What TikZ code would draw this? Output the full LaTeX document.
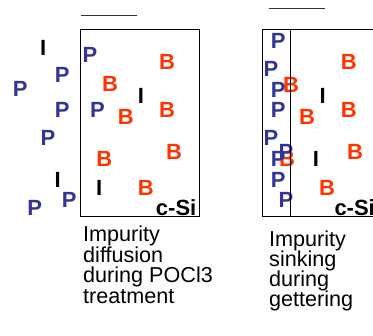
\documentclass[tikz,border=0pt]{standalone}
\usepackage{fontspec}
\setmainfont{Liberation Sans}
\definecolor{pblue}{HTML}{333399}
\definecolor{bred}{HTML}{FF3300}
\begin{document}
\begin{tikzpicture}[x=1bp,y=-1bp,
  atom/.style={inner sep=0pt,font=\fontsize{22bp}{22bp}\selectfont\bfseries},
  pat/.style={atom,text=pblue},
  bat/.style={atom,text=bred},
  iat/.style={atom,text=black},
  csi/.style={inner sep=0pt,font=\fontsize{22bp}{22bp}\selectfont\bfseries},
  lbl/.style={inner sep=0pt,anchor=base west,font=\fontsize{21.6bp}{21.6bp}\selectfont},
  frame/.style={draw=black,line width=1bp},
  bar/.style={draw=black!80,line width=1bp}]
\useasboundingbox (0,0) rectangle (373,336);
% ---------- left panel ----------
\draw[frame] (80.5,29.5) rectangle (199,216.5);
\coordinate (la) at (80.7,15.5);
\coordinate (lb) at (136.7,15.5);
\draw[bar] (la) -- (lb);
\node[iat] (li1) at (43.3,48) {I};
\node[pat] (lp1) at (90,55.3) {P};
\node[bat] (lb1) at (167,61.7) {B};
\node[pat] (lp2) at (62.3,75.3) {P};
\node[pat] (lp3) at (20.3,89) {P};
\node[bat] (lb2) at (110,84.3) {B};
\node[iat] (li2) at (141,96) {I};
\node[pat] (lp4) at (62.3,109.5) {P};
\node[pat] (lp5) at (97.5,109.5) {P};
\node[bat] (lb3) at (125.7,117.2) {B};
\node[bat] (lb4) at (167,109.5) {B};
\node[pat] (lp6) at (48,137.8) {P};
\node[bat] (lb5) at (174,151.7) {B};
\node[bat] (lb6) at (104.3,159.2) {B};
\node[iat] (li3) at (57.7,180) {I};
\node[iat] (li4) at (99.2,187.5) {I};
\node[bat] (lb7) at (145.7,187.5) {B};
\node[pat] (lp7) at (69.3,199.5) {P};
\node[pat] (lp8) at (34.7,208) {P};
\node[csi,anchor=base east] (lcsi) at (196.5,215.5) {c-Si};
\node[lbl] (lt1) at (83,241.7) {Impurity};
\node[lbl] (lt2) at (83,262.2) {diffusion};
\node[lbl] (lt3) at (83,282.7) {during POCl3};
\node[lbl] (lt4) at (83,303) {treatment};
% ---------- right panel ----------
\draw[frame] (262,29.5) rectangle (390,216.5);
\coordinate (ra) at (290,29.5);
\coordinate (rb) at (290,216.5);
\coordinate (rc) at (268.7,8.5);
\coordinate (rd) at (325.3,8.5);
\draw[bar] (rc) -- (rd);
\node[bat] (rb1) at (348.7,61.7) {B};
\node[bat] (rb2) at (291,84.5) {B};
\node[iat] (ri1) at (322.8,96) {I};
\node[bat] (rb3) at (307,117) {B};
\node[bat] (rb4) at (348.7,109.5) {B};
\node[bat] (rb5) at (287,159.2) {B};
\node[iat] (ri2) at (316,159.2) {I};
\node[bat] (rb6) at (355,151.7) {B};
\node[bat] (rb7) at (327,187.5) {B};
\node[pat] (rp1) at (278.3,41) {P};
\node[pat] (rp2) at (271,68.7) {P};
\node[pat] (rp3) at (278.3,89.7) {P};
\node[pat] (rp4) at (278.3,109.5) {P};
\node[pat] (rp5) at (271,137.8) {P};
\node[pat] (rp6) at (286,151.7) {P};
\node[pat] (rp7) at (278.3,159.2) {P};
\node[pat] (rp8) at (278.3,180) {P};
\node[pat] (rp9) at (286,199.5) {P};
\draw[frame] (ra) -- (rb);
\node[csi,anchor=base west] (rcsi) at (334.3,215.5) {c-Si};
\node[lbl] (rt1) at (269,246) {Impurity};
\node[lbl] (rt2) at (269,266.5) {sinking};
\node[lbl] (rt3) at (269,286.7) {during};
\node[lbl] (rt4) at (269,306.7) {gettering};
\end{tikzpicture}
\end{document}
